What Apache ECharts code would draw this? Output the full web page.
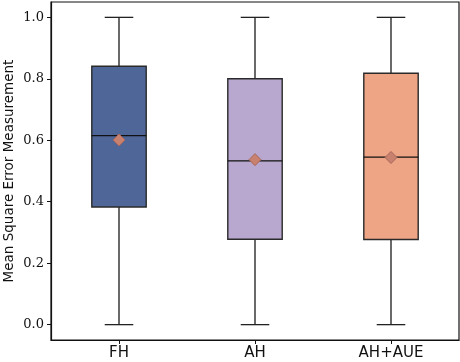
<!DOCTYPE html>
<html>
<head>
<meta charset="utf-8">
<script src="https://cdn.jsdelivr.net/npm/echarts@6/dist/echarts.min.js"></script>
<style>html,body{margin:0;padding:0;background:#fff;}#c{width:460px;height:362px;}</style>
</head>
<body>
<div id="c"></div>
<script>
const categories = ['FH', 'AH', 'AH+AUE'];
const whiskerLow = [0.0, 0.0, 0.0];
const q1Values = [0.383, 0.278, 0.277];
const medianValues = [0.615, 0.533, 0.545];
const q3Values = [0.841, 0.800, 0.818];
const whiskerHigh = [1.0, 1.0, 1.0];
const meanValues = [0.601, 0.537, 0.544];
const boxColors = ['#4f6699', '#b8a8cf', '#eea585'];
const yTicks = [0.0, 0.2, 0.4, 0.6, 0.8, 1.0];

const boxData = categories.map((c, i) => [i, whiskerLow[i], q1Values[i], medianValues[i], q3Values[i], whiskerHigh[i]]);
const meanData = categories.map((c, i) => [i, meanValues[i]]);

const chart = echarts.init(document.getElementById('c'), null, {renderer: 'canvas'});
chart.setOption({
  animation: false,
  grid: {left: 51, right: 1, top: 2, bottom: 22, containLabel: false, outerBoundsMode: 'none',
    show: true, borderColor: '#111', borderWidth: 1.2, backgroundColor: 'transparent'},
  xAxis: {
    type: 'category', data: categories, boundaryGap: true,
    axisLine: {show: true, onZero: false, lineStyle: {color: '#111', width: 1.2}},
    axisTick: {show: true, alignWithLabel: true, length: 4, lineStyle: {color: '#111', width: 1}},
    axisLabel: {color: '#111', fontFamily: 'DejaVu Sans', fontSize: 15, margin: 6},
    splitLine: {show: false}
  },
  yAxis: {
    type: 'value', min: -0.05, max: 1.05,
    name: 'Mean Square Error Measurement', nameLocation: 'middle', nameGap: 35, nameMoveOverlap: false,
    nameTextStyle: {color: '#111', fontFamily: 'DejaVu Sans', fontSize: 13.5},
    axisLine: {show: true, onZero: false, lineStyle: {color: '#111', width: 1.2}},
    axisTick: {show: true, length: 4, customValues: yTicks, lineStyle: {color: '#111', width: 1}},
    axisLabel: {color: '#111', fontFamily: 'DejaVu Serif', fontSize: 13, margin: 7, customValues: yTicks,
      formatter: v => v.toFixed(1)},
    splitLine: {show: false}
  },
  series: [
    {
      type: 'custom',
      data: boxData,
      encode: {x: 0, y: [1, 2, 3, 4, 5]},
      renderItem: function (params, api) {
        const idx = api.value(0);
        const band = api.size([1, 0])[0];
        const bw = band * 0.4;
        const cw = band * 0.21;
        const pLow = api.coord([idx, api.value(1)]);
        const pQ1 = api.coord([idx, api.value(2)]);
        const pMed = api.coord([idx, api.value(3)]);
        const pQ3 = api.coord([idx, api.value(4)]);
        const pHigh = api.coord([idx, api.value(5)]);
        const x = pQ1[0];
        const lineStyle = {stroke: '#1a1a1a', lineWidth: 1.3};
        return {
          type: 'group',
          children: [
            {type: 'line', shape: {x1: x, y1: pLow[1], x2: x, y2: pQ1[1]}, style: lineStyle},
            {type: 'line', shape: {x1: x, y1: pQ3[1], x2: x, y2: pHigh[1]}, style: lineStyle},
            {type: 'line', shape: {x1: x - cw / 2, y1: pLow[1], x2: x + cw / 2, y2: pLow[1]}, style: {stroke: '#222', lineWidth: 1.3}},
            {type: 'line', shape: {x1: x - cw / 2, y1: pHigh[1], x2: x + cw / 2, y2: pHigh[1]}, style: {stroke: '#222', lineWidth: 1.3}},
            {type: 'rect', shape: {x: x - bw / 2, y: pQ3[1], width: bw, height: pQ1[1] - pQ3[1]},
              style: {fill: boxColors[params.dataIndex], stroke: '#2a2a2a', lineWidth: 1.4}},
            {type: 'line', shape: {x1: x - bw / 2, y1: pMed[1], x2: x + bw / 2, y2: pMed[1]}, style: {stroke: '#111', lineWidth: 1.3}}
          ]
        };
      },
      z: 2
    },
    {
      type: 'scatter',
      data: meanData,
      symbol: 'diamond',
      symbolSize: [12, 12],
      itemStyle: {color: '#c8806f', borderColor: '#a8665a', borderWidth: 1, opacity: 1},
      z: 3
    }
  ]
});
</script>
</body>
</html>
